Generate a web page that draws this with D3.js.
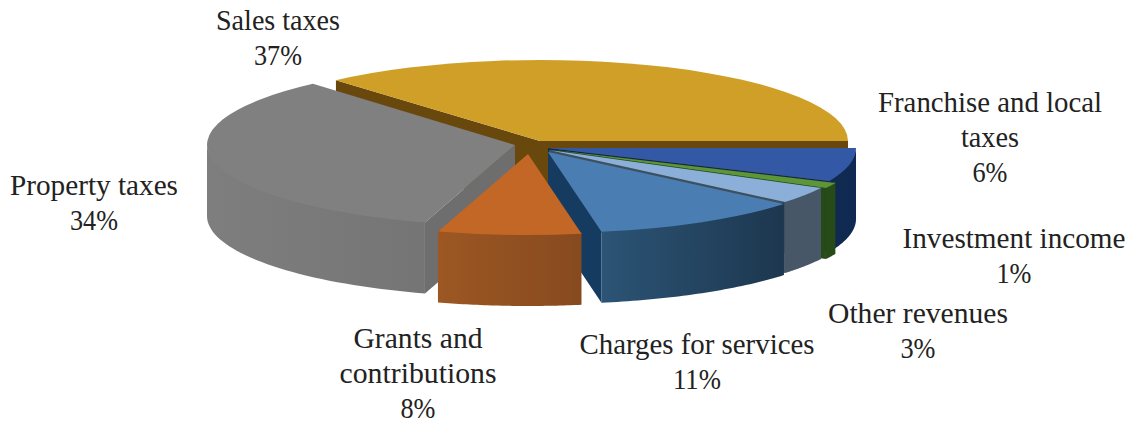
<!DOCTYPE html>
<html>
<head>
<meta charset="utf-8">
<style>
html,body{margin:0;padding:0;background:#fff}
svg{display:block}
text{font-family:"Liberation Serif","DejaVu Serif",serif;font-size:29px;fill:#222;text-anchor:middle}
</style>
<script src="https://cdn.jsdelivr.net/npm/d3@7/dist/d3.min.js"></script>
</head>
<body>
<svg id="chart" width="1133" height="423"></svg>
<script>
// Revenue shares, clockwise from the sales slice
const categories = ["Sales taxes","Franchise and local taxes","Investment income","Other revenues","Charges for services","Grants and contributions","Property taxes"];
const shares = [37,6,1,3,11,8,34];

// Label text broken into lines, with anchor point for the first line
const labelLines = [["Sales taxes"],["Franchise and local","taxes"],["Investment income"],["Other revenues"],["Charges for services"],["Grants and","contributions"],["Property taxes"]];
const labelX = [278,990,1014,918,697,418,94];
const labelY = [30,112,248,323,354,348,195];
const labelWidth = [[124],[224,58],[223],[180],[235],[129,157],[168]];

// Exploded slice apex positions
const apexX = [540,548,554,549,548,528,515];
const apexY = [141,148,150,150,152,154,145];

// Per-slice colours: top face, cut face, outer wall left and right
const topColor  = ["#CF9F27","#3358A5","#5C9636","#8BAFD8","#4A7DB1","#C36726","#808080"];
const cutColor  = ["#69480E","#10294F","#264A18","#3F4F63","#153B60","#8B4A1F","#6E6E6E"];
const wallLeft  = ["#69480E","#10294F","#264A18","#475768","#2C5475","#9C5723","#7E7E7E"];
const wallRight = ["#69480E","#0F2A52","#264A18","#475768","#1D374F","#874A1F","#757575"];

// Stacking order of the solid slices, back to front
const paintOrder = [0,1,2,3,4,6,5];

const radiusX = 308, radiusY = 81, depth = 71, seamOverlap = 1.5;

const rad = Math.PI / 180;
// Oblique view: shares map to slightly skewed angles on the tilted disc
const viewAngle = d3.scaleLinear()
  .domain([-43.2,90,111.6,115.2,126,165.6,194.4,316.8])
  .range([-41.5,90,114,118,130,170,197,319]);

const pie = d3.pie().sort(null).startAngle(-43.2*rad).endAngle(316.8*rad);
const arcs = pie(shares).map((d,i) => ({
  i,
  a0: viewAngle(d.startAngle/rad)*rad,
  a1: viewAngle(d.endAngle/rad)*rad,
  cx: apexX[i],
  cy: apexY[i]
}));

const svg = d3.select("#chart");
const defs = svg.append("defs");
arcs.forEach(d => {
  const g = defs.append("linearGradient").attr("id","wall"+d.i);
  g.append("stop").attr("offset","0").attr("stop-color",wallLeft[d.i]);
  g.append("stop").attr("offset","1").attr("stop-color",wallRight[d.i]);
});

const px = (d,a) => d.cx + radiusX*Math.sin(a);
const py = (d,a) => d.cy - radiusY*Math.cos(a);
const line = d3.line();
const unitArc = d3.arc().innerRadius(0).outerRadius(1);

function cutFace(d,a){
  return line([[d.cx,d.cy],[px(d,a),py(d,a)],[px(d,a),py(d,a)+depth],[d.cx,d.cy+depth]])+"Z";
}
function outerWall(d){
  const lo = Math.max(d.a0, 90*rad), hi = Math.min(d.a1, 270*rad);
  if (hi <= lo) return null;
  const steps = d3.range(0,41).map(k => lo + (hi-lo)*k/40);
  // The upper edge tucks under the top face so no pale seam shows between them
  const upper = steps.map(a => [px(d,a),py(d,a)-seamOverlap]);
  const lower = steps.slice().reverse().map(a => [px(d,a),py(d,a)+depth]);
  return line(upper.concat(lower))+"Z";
}

const slices = svg.selectAll("g.slice").data(paintOrder.map(i => arcs[i])).join("g").attr("class","slice");

slices.each(function(d){
  const g = d3.select(this);
  // Cut faces turned towards the viewer
  if (Math.sin(d.a0) < 0) g.append("path").attr("d",cutFace(d,d.a0)).attr("fill",cutColor[d.i]);
  if (Math.sin(d.a1) > 0) g.append("path").attr("d",cutFace(d,d.a1)).attr("fill",cutColor[d.i]);
  const wall = outerWall(d);
  if (wall) g.append("path").attr("d",wall).attr("fill","url(#wall"+d.i+")");
  // Top face: a unit sector squashed into the disc's ellipse
  g.append("path")
    .attr("d",unitArc({startAngle:d.a0,endAngle:d.a1}))
    .attr("transform",`translate(${d.cx},${d.cy}) scale(${radiusX},${radiusY})`)
    .attr("fill",topColor[d.i]);
});

// Category name and percentage labels
const lineGap = 35;
const labels = svg.selectAll("g.label").data(categories).join("g").attr("class","label");
labels.each(function(name,i){
  const g = d3.select(this);
  const rows = labelLines[i].concat([shares[i]+"%"]);
  rows.forEach((t,k) => {
    const isName = k < labelLines[i].length;
    const w = isName ? labelWidth[i][k] : (shares[i] >= 10 ? 48 : 35);
    g.append("text")
      .attr("x",labelX[i]).attr("y",labelY[i]+k*lineGap)
      .attr("textLength",w).attr("lengthAdjust","spacingAndGlyphs")
      .text(t);
  });
});
</script>
</body>
</html>
